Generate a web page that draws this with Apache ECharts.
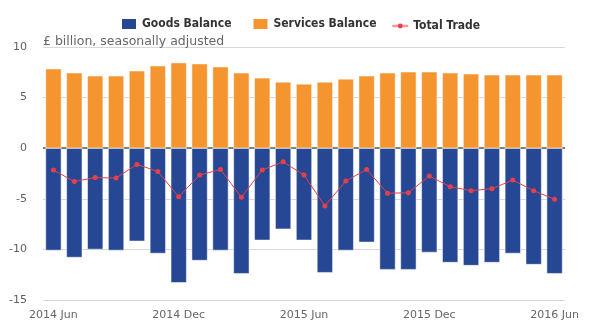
<!DOCTYPE html>
<html>
<head>
<meta charset="utf-8">
<script src="https://cdn.jsdelivr.net/npm/echarts@6/dist/echarts.min.js"></script>
<style>html,body{margin:0;padding:0;background:#fff}#c{width:600px;height:336px}</style>
</head>
<body>
<div id="c"></div>
<script>
const categories = ['2014 Jun','2014 Jul','2014 Aug','2014 Sep','2014 Oct','2014 Nov','2014 Dec',
  '2015 Jan','2015 Feb','2015 Mar','2015 Apr','2015 May','2015 Jun','2015 Jul','2015 Aug','2015 Sep',
  '2015 Oct','2015 Nov','2015 Dec','2016 Jan','2016 Feb','2016 Mar','2016 Apr','2016 May','2016 Jun'];
const goodsBalance = [-10.1,-10.8,-10.0,-10.1,-9.2,-10.4,-13.3,-11.1,-10.1,-12.4,-9.1,-8.0,
  -9.1,-12.3,-10.1,-9.3,-12.0,-12.0,-10.3,-11.3,-11.6,-11.3,-10.4,-11.5,-12.4];
const servicesBalance = [7.85,7.45,7.15,7.15,7.65,8.15,8.45,8.35,8.05,7.45,6.95,6.55,
  6.35,6.55,6.85,7.15,7.45,7.55,7.55,7.45,7.35,7.25,7.25,7.25,7.25];
const totalTrade = [-2.15,-3.3,-2.9,-2.95,-1.6,-2.3,-4.8,-2.65,-2.1,-4.85,-2.15,-1.35,
  -2.65,-5.7,-3.25,-2.1,-4.45,-4.4,-2.75,-3.8,-4.2,-4.0,-3.15,-4.2,-5.05];
const yTicks = {min:-15, max:10, interval:5};

const chart = echarts.init(document.getElementById('c'), null, {renderer:'canvas'});
const font = 'DejaVu Sans';
const legendText = {fontFamily:'DejaVu Sans Condensed', fontWeight:'bold', fontSize:12, color:'#333'};
chart.setOption({
  animation:false,
  backgroundColor:'#fff',
  title:{text:'£ billion, seasonally adjusted', left:38, top:30,
    textStyle:{fontFamily:font, fontSize:12.5, fontWeight:'normal', color:'#666'}},
  legend:[
    {top:12, left:115, itemWidth:16, itemHeight:12, itemGap:20, textStyle:legendText,
     data:[{name:'Goods Balance', icon:'rect'},{name:'Services Balance', icon:'rect'}]},
    {top:15, left:386, itemWidth:16, itemHeight:6, textStyle:legendText,
     lineStyle:{color:'#f0999c', width:2.5},
     data:[{name:'Total Trade'}]}
  ],
  grid:{left:43, right:35, top:47, bottom:36},
  xAxis:{type:'category', data:categories,
    axisLine:{lineStyle:{color:'#c0d0e0', width:1}},
    axisTick:{interval:5, alignWithLabel:true, length:8, lineStyle:{color:'#c0d0e0'}},
    axisLabel:{interval:5, fontFamily:font, fontSize:11, color:'#666', margin:10},
    splitLine:{show:false}},
  yAxis:{type:'value', min:yTicks.min, max:yTicks.max, interval:yTicks.interval,
    axisLine:{show:false}, axisTick:{show:false},
    axisLabel:{fontFamily:font, fontSize:11, color:'#606060', margin:16},
    splitLine:{lineStyle:{color:'#d8d8d8', width:1}}},
  series:[
    {name:'Goods Balance', type:'bar', stack:'a', data:goodsBalance, barWidth:'76%',
     itemStyle:{color:'#264794', borderColor:'#fff', borderWidth:0.5},
     markLine:{silent:true, z:1, symbol:'none', label:{show:false},
       lineStyle:{color:'#808080', width:2, type:'solid'}, data:[{yAxis:0}]}},
    {name:'Services Balance', type:'bar', stack:'a', data:servicesBalance, barWidth:'76%',
     itemStyle:{color:'#f4952f', borderColor:'#fff', borderWidth:0.5}},
    {name:'Total Trade', type:'line', data:totalTrade, z:5,
     symbol:'circle', symbolSize:5,
     lineStyle:{color:'#e8404a', width:1}, itemStyle:{color:'#e8404a'}}
  ]
});
</script>
</body>
</html>
